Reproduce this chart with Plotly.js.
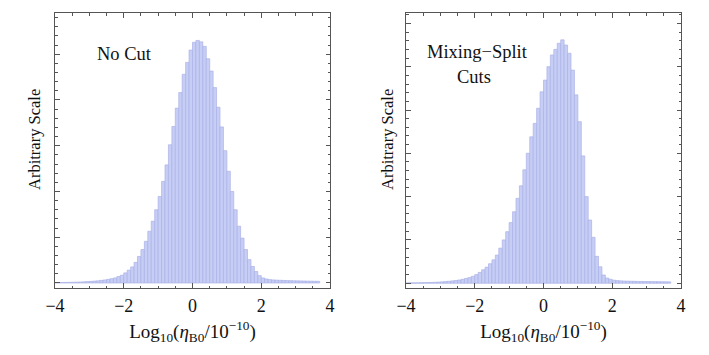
<!DOCTYPE html>
<html>
<head>
<meta charset="utf-8">
<script src="https://cdn.plot.ly/plotly-3.0.1.min.js"></script>
<style>
  html, body { margin: 0; padding: 0; background: #ffffff; }
  #chart { width: 709px; height: 355px; }
</style>
</head>
<body>
<div id="chart"></div>
<script>
// histogram bins: left edge of the first bin and bin width (log10 units)
const binStart = -4.0;
const binWidth = 0.1;

// "No Cut" panel, one value per bin from -4.0 to 3.7
const noCut = [
    0.008, 0.010, 0.011, 0.012, 0.014, 0.016, 0.018, 0.021, 0.025, 0.029,
    0.034, 0.040, 0.047, 0.056, 0.066, 0.078, 0.093, 0.11, 0.14, 0.17,
    0.22, 0.28, 0.35, 0.45, 0.58, 0.73, 0.91, 1.13, 1.35, 1.60,
    1.89, 2.22, 2.58, 3.02, 3.42, 3.82, 4.16, 4.56, 4.82, 5.09,
    5.26, 5.30, 5.27, 5.17, 4.90, 4.63, 4.27, 3.84, 3.41, 2.89,
    2.44, 2.00, 1.60, 1.24, 0.98, 0.73, 0.51, 0.36, 0.25, 0.16,
    0.11, 0.087, 0.073, 0.066, 0.062, 0.058, 0.055, 0.052, 0.050, 0.048,
    0.046, 0.044, 0.042, 0.040, 0.039, 0.037, 0.036
];

// "Mixing-Split Cuts" panel
const mixSplit = [
    0.006, 0.008, 0.009, 0.010, 0.012, 0.014, 0.016, 0.019, 0.022, 0.026,
    0.031, 0.037, 0.044, 0.053, 0.063, 0.075, 0.09, 0.11, 0.13, 0.16,
    0.20, 0.25, 0.31, 0.37, 0.45, 0.54, 0.65, 0.81, 1.00, 1.19,
    1.40, 1.65, 1.96, 2.25, 2.62, 3.00, 3.38, 3.69, 4.04, 4.42,
    4.69, 5.00, 5.27, 5.40, 5.54, 5.62, 5.50, 5.31, 4.92, 4.35,
    3.73, 2.94, 2.00, 1.46, 1.06, 0.62, 0.38, 0.19, 0.12, 0.09,
    0.07, 0.06, 0.055, 0.050, 0.048, 0.046, 0.044, 0.042, 0.040, 0.039,
    0.038, 0.037, 0.036, 0.035, 0.034, 0.033, 0.032
];

const xTicks = [-4, -2, 0, 2, 4];
const xTickText = ["\u22124", "\u22122", "0", "2", "4"];

function bin_centers(n) {
    let c = [];
    for (let i = 0; i < n; i++) {
        c.push(Math.round((binStart + (i + 0.5) * binWidth) * 1000) / 1000);
    }
    return c;
}

function bars(values, xa, ya) {
    return {
        type: 'bar',
        x: bin_centers(values.length),
        y: values,
        width: binWidth,
        xaxis: xa,
        yaxis: ya,
        marker: {
            color: 'rgb(199,206,245)',
            line: { color: 'rgb(170,178,231)', width: 0.7 }
        },
        hoverinfo: 'skip',
        showlegend: false
    };
}

const serif = 'Liberation Serif';
const txt = { family: serif, size: 18.5, color: '#111111' };
const ytxt = { family: serif, size: 16.5, color: '#111111' };
const frameColor = '#555555';

function x_axis(domain, anchor) {
    return {
        domain: domain,
        anchor: anchor,
        range: [-4, 4],
        tickvals: xTicks,
        ticktext: xTickText,
        ticks: 'inside',
        ticklen: 5,
        tickwidth: 1,
        tickcolor: frameColor,
        minor: { dtick: 0.5, ticks: 'inside', ticklen: 2.5, tickcolor: frameColor },
        showline: true,
        linecolor: frameColor,
        linewidth: 1,
        mirror: 'allticks',
        showgrid: false,
        zeroline: false,
        tickfont: { family: serif, size: 18, color: '#111111' },
        ticklabelstandoff: 1,
        title: {
            text: 'Log<sub>10</sub>(<i>\u03B7</i><sub>B0</sub>/10<sup>\u221210</sup>)',
            font: { family: serif, size: 19, color: '#111111' },
            standoff: 10
        }
    };
}

function y_axis(domain, anchor, top) {
    return {
        domain: domain,
        anchor: anchor,
        range: [-0.11, top],
        dtick: 1,
        tick0: 0,
        ticks: 'inside',
        ticklen: 4.5,
        tickwidth: 1,
        tickcolor: frameColor,
        minor: { dtick: 0.2, ticks: 'inside', ticklen: 2.5, tickcolor: frameColor },
        showticklabels: false,
        showline: true,
        linecolor: frameColor,
        linewidth: 1,
        mirror: 'allticks',
        showgrid: false,
        zeroline: false
    };
}

const yDomain = [1 - 288 / 355, 1 - 13 / 355];

// y titles sit a little above the frame centre, as in the original
function y_title(xpx) {
    return {
        xref: 'paper', yref: 'paper', x: xpx / 709, y: 1 - 140 / 355,
        xanchor: 'center', yanchor: 'middle',
        text: 'Arbitrary Scale', textangle: -90, showarrow: false, font: ytxt
    };
}

const layout = {
    width: 709,
    height: 355,
    margin: { l: 0, r: 0, t: 0, b: 0 },
    paper_bgcolor: '#ffffff',
    plot_bgcolor: '#ffffff',
    bargap: 0,
    font: txt,
    xaxis: x_axis([55 / 709, 330 / 709], 'y'),
    yaxis: y_axis(yDomain, 'x', 5.9),
    xaxis2: x_axis([406 / 709, 681 / 709], 'y2'),
    yaxis2: y_axis(yDomain, 'x2', 6.24),
    annotations: [
        y_title(35),
        y_title(388),
        { xref: 'x', yref: 'y', x: -1.99, y: 5.0, text: 'No Cut', showarrow: false, font: txt },
        { xref: 'x2', yref: 'y2', x: -1.92, y: 5.33, text: 'Mixing\u2212Split', showarrow: false, font: txt },
        { xref: 'x2', yref: 'y2', x: -2.01, y: 4.77, text: 'Cuts', showarrow: false, font: txt }
    ]
};

Plotly.newPlot('chart', [bars(noCut, 'x', 'y'), bars(mixSplit, 'x2', 'y2')], layout,
    { displayModeBar: false, staticPlot: true });
</script>
</body>
</html>
